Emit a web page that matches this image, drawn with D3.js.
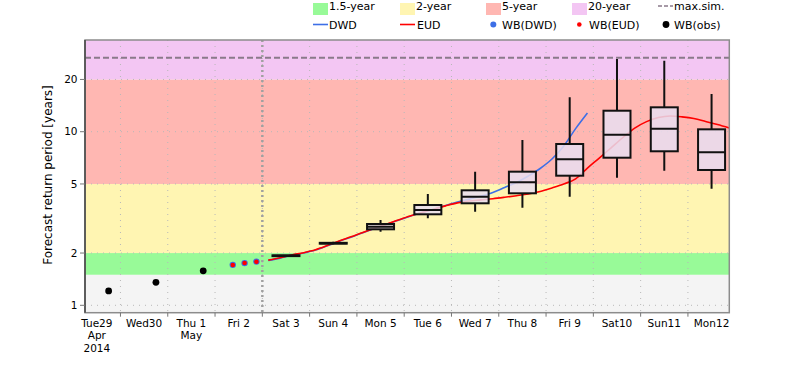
<!DOCTYPE html>
<html><head><meta charset="utf-8">
<script src="https://cdn.jsdelivr.net/npm/d3@7"></script>
<style>body{margin:0;background:#fff}svg text{font-family:"DejaVu Sans",sans-serif}</style>
</head><body><svg id="c" width="800" height="380"></svg>
<script>
// ---- data ----
const dayLabels = [["Tue29","Apr","2014"],["Wed30"],["Thu 1","May"],["Fri 2"],["Sat 3"],["Sun 4"],["Mon 5"],["Tue 6"],["Wed 7"],["Thu 8"],["Fri 9"],["Sat10"],["Sun11"],["Mon12"]];
const yTicks = [1,2,5,10,20];
const obsTimes = ["2014-04-29T18","2014-04-30T18","2014-05-01T18"];
const obsValues = [1.21,1.357,1.58];
const wbTimes = ["2014-05-02T09","2014-05-02T15","2014-05-02T21"];
const wbDWD = [1.71,1.75,1.785];
const wbEUD = [1.707,1.753,1.783];
const lineStart = "2014-05-03T03"; // 6-hourly series
const eudValues = [1.82,1.88,1.95,2.01,2.09,2.21,2.35,2.48,2.63,2.78,2.93,3.10,3.27,3.42,3.58,3.74,3.89,3.99,4.05,4.11,4.19,4.28,4.38,4.52,4.74,5.00,5.35,6.17,7.05,8.08,9.26,10.49,11.43,12.06,12.31,12.17,11.91,11.45,10.99,10.50];
const dwdValues = [1.81,1.87,1.94,2.00,2.08,2.20,2.34,2.47,2.62,2.77,2.92,3.09,3.26,3.42,3.58,3.76,3.93,4.09,4.26,4.47,4.77,5.10,5.56,6.14,6.96,8.28,10.42,12.82];
const boxDays = ["2014-05-03","2014-05-04","2014-05-05","2014-05-06","2014-05-07","2014-05-08","2014-05-09","2014-05-10","2014-05-11","2014-05-12"];
const boxLow  = [1.91,2.25,2.655,3.171,3.461,3.65,4.222,5.433,5.962,4.696];
const boxQ1   = [1.92,2.265,2.74,3.344,3.869,4.418,5.58,7.083,7.713,6.018];
const boxMed  = [1.93,2.275,2.837,3.54,4.222,5.111,6.934,9.61,10.40,7.61];
const boxQ3   = [1.94,2.29,2.94,3.782,4.597,5.885,8.494,13.21,13.82,10.32];
const boxHigh = [1.95,2.32,3.10,4.377,5.885,8.958,15.78,26.23,25.64,16.49];
const maxSim = 26.7;
const bands = [[0.5,1.5,"#f4f4f4"],[1.5,2,"#98fa98"],[2,5,"#fff5b2"],[5,20,"#ffb7b2"],[20,100,"#f3c6f3"]];
const forecastStart = "2014-05-03T00";

// ---- drawing ----
const P = s => new Date(s.length<=10 ? s+"T00:00:00Z" : s+":00:00Z");
const L=85, R=729.3, T=40, B=312.7;
const x = d3.scaleUtc().domain([P("2014-04-29T06"), P("2014-05-12T21")]).range([L,R]);
const y = d3.scaleLog().domain([0.9065,33.75]).range([B,T]);
const svg = d3.select("#c");
svg.append("defs").append("clipPath").attr("id","clip").append("rect").attr("x",L).attr("y",T).attr("width",R-L).attr("height",B-T);
const g = svg.append("g").attr("clip-path","url(#clip)");

g.selectAll("rect.band").data(bands).join("rect")
 .attr("x",L).attr("width",R-L)
 .attr("y",d=>y(Math.min(d[1],33.75))).attr("height",d=>y(Math.max(d[0],0.9065))-y(Math.min(d[1],33.75)))
 .attr("fill",d=>d[2]);

const dayTicks = d3.utcDay.range(P("2014-04-30"), P("2014-05-13"));
g.selectAll("line.vg").data(dayTicks).join("line")
 .attr("x1",d=>x(d)).attr("x2",d=>x(d)).attr("y1",T).attr("y2",B)
 .attr("stroke","#b8b8b8").attr("stroke-width",1).attr("stroke-dasharray","1,5");
g.selectAll("line.hg").data(yTicks).join("line")
 .attr("x1",L).attr("x2",R).attr("y1",d=>y(d)).attr("y2",d=>y(d))
 .attr("stroke","#b8b8b8").attr("stroke-width",1).attr("stroke-dasharray","1,5");

g.append("line").attr("x1",L).attr("x2",R).attr("y1",y(maxSim)).attr("y2",y(maxSim))
 .attr("stroke","#8a7a8a").attr("stroke-width",2).attr("stroke-dasharray","6,3");
g.append("line").attr("x1",x(P(forecastStart))).attr("x2",x(P(forecastStart))).attr("y1",T).attr("y2",B)
 .attr("stroke","#a0a0a0").attr("stroke-width",2.5).attr("stroke-dasharray","2,3");

const t0 = P(lineStart);
const line = d3.line().x((d,i)=>x(d3.utcHour.offset(t0,6*i))).y(d=>y(d)).curve(d3.curveMonotoneX);
g.append("path").attr("d",line(dwdValues)).attr("fill","none").attr("stroke","#3d6fe6").attr("stroke-width",1.6);
g.append("path").attr("d",line(eudValues)).attr("fill","none").attr("stroke","#ff0000").attr("stroke-width",1.6);

g.selectAll("circle.wbd").data(wbDWD).join("circle").attr("cx",(d,i)=>x(P(wbTimes[i]))).attr("cy",d=>y(d)).attr("r",3.2).attr("fill","#3d6fe6");
g.selectAll("circle.wbe").data(wbEUD).join("circle").attr("cx",(d,i)=>x(P(wbTimes[i]))).attr("cy",d=>y(d)).attr("r",2.3).attr("fill","#ff0000");
g.selectAll("circle.obs").data(obsValues).join("circle").attr("cx",(d,i)=>x(P(obsTimes[i]))).attr("cy",d=>y(d)).attr("r",3.4).attr("fill","#000");

const bw = 27;
const bx = g.selectAll("g.box").data(boxDays).join("g").attr("transform",d=>`translate(${x(d3.utcHour.offset(P(d),12))},0)`);
bx.append("line").attr("y1",(d,i)=>y(boxHigh[i])).attr("y2",(d,i)=>y(boxQ3[i])).attr("stroke","#111").attr("stroke-width",2);
bx.append("line").attr("y1",(d,i)=>y(boxQ1[i])).attr("y2",(d,i)=>y(boxLow[i])).attr("stroke","#111").attr("stroke-width",2);
bx.append("rect").attr("x",-bw/2).attr("width",bw).attr("y",(d,i)=>y(boxQ3[i])).attr("height",(d,i)=>y(boxQ1[i])-y(boxQ3[i]))
 .attr("fill","#e9def0").attr("fill-opacity",0.85).attr("stroke","#111").attr("stroke-width",2);
bx.append("line").attr("x1",-bw/2).attr("x2",bw/2).attr("y1",(d,i)=>y(boxMed[i])).attr("y2",(d,i)=>y(boxMed[i])).attr("stroke","#111").attr("stroke-width",2);

// frame
svg.append("rect").attr("x",L).attr("y",T).attr("width",R-L).attr("height",B-T).attr("fill","none").attr("stroke","#8c8c8c").attr("stroke-width",1.5);
svg.append("line").attr("x1",L).attr("x2",L).attr("y1",T).attr("y2",B).attr("stroke","#444").attr("stroke-width",1.5);

// y axis
const ya = svg.append("g");
ya.selectAll("line").data(yTicks).join("line").attr("x1",L-5).attr("x2",L).attr("y1",d=>y(d)).attr("y2",d=>y(d)).attr("stroke","#777");
ya.selectAll("text").data(yTicks).join("text").attr("x",L-7.5).attr("y",d=>y(d)).attr("dy","0.35em")
 .attr("text-anchor","end").attr("font-size",10.5).attr("fill","#000").text(d=>d);
svg.append("text").attr("transform","translate(52,175) rotate(-90)").attr("text-anchor","middle").attr("font-size",12).text("Forecast return period [years]");

// x axis
const xa = svg.append("g");
xa.selectAll("line").data(dayTicks).join("line").attr("x1",d=>x(d)).attr("x2",d=>x(d)).attr("y1",B).attr("y2",B+4).attr("stroke","#777");
const days = d3.utcDay.range(P("2014-04-29"), P("2014-05-13"));
xa.selectAll("text").data(days).join("text").attr("x",d=>x(d3.utcHour.offset(d,12))).attr("y",326.5)
 .attr("text-anchor","middle").attr("font-size",10.5)
 .each(function(d,i){ const t=d3.select(this); dayLabels[i].forEach((s,j)=>t.append("tspan").attr("x",x(d3.utcHour.offset(d,12))).attr("dy",j?12.5:0).text(s)); });

// legend
const lg = svg.append("g").attr("font-size",11);
const row1 = [[313,"#98fa98","1.5-year"],[400,"#fff5b2","2-year"],[486,"#ffb7b2","5-year"],[572,"#f3c6f3","20-year"]];
row1.forEach(r=>{ lg.append("rect").attr("x",r[0]).attr("y",3).attr("width",15).attr("height",12).attr("fill",r[1]);
  lg.append("text").attr("x",r[0]+16).attr("y",10).text(r[2]); });
lg.append("line").attr("x1",658).attr("x2",673).attr("y1",6).attr("y2",6).attr("stroke","#8a7a8a").attr("stroke-width",1.5).attr("stroke-dasharray","4,2");
lg.append("text").attr("x",674).attr("y",10).text("max.sim.");
lg.append("line").attr("x1",313).attr("x2",328).attr("y1",24.5).attr("y2",24.5).attr("stroke","#3d6fe6").attr("stroke-width",1.6);
lg.append("text").attr("x",329).attr("y",29).text("DWD");
lg.append("line").attr("x1",400).attr("x2",415).attr("y1",24.5).attr("y2",24.5).attr("stroke","#ff0000").attr("stroke-width",1.6);
lg.append("text").attr("x",417).attr("y",29).text("EUD");
lg.append("circle").attr("cx",493.3).attr("cy",24.5).attr("r",3).attr("fill","#3d6fe6");
lg.append("text").attr("x",502).attr("y",29).text("WB(DWD)");
lg.append("circle").attr("cx",579.3).attr("cy",24.5).attr("r",2.3).attr("fill","#ff0000");
lg.append("text").attr("x",589).attr("y",29).text("WB(EUD)");
lg.append("circle").attr("cx",666).attr("cy",24.5).attr("r",3.4).attr("fill","#000");
lg.append("text").attr("x",674).attr("y",29).text("WB(obs)");
</script></body></html>
